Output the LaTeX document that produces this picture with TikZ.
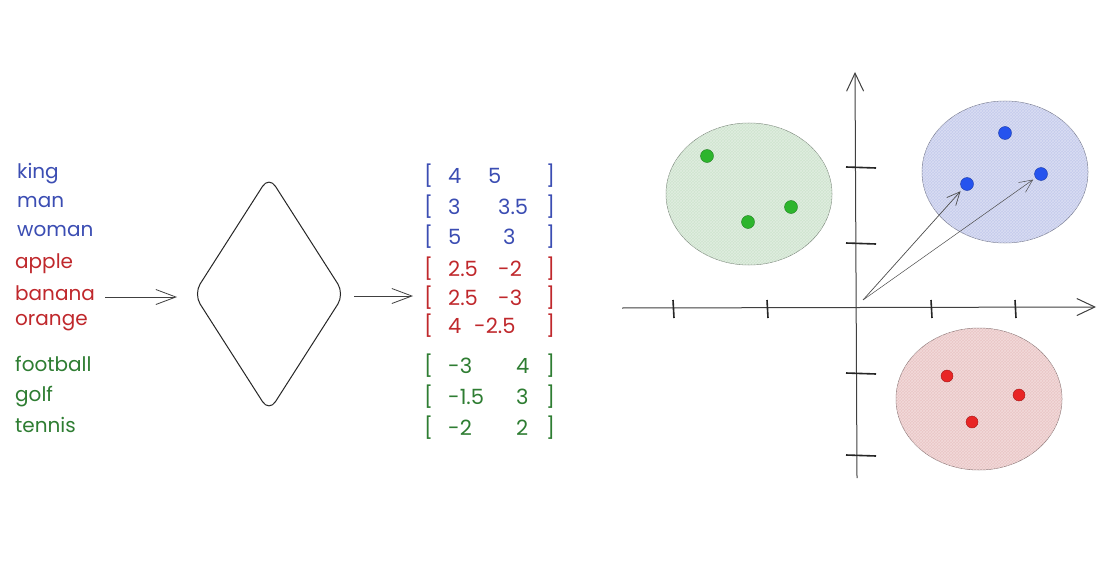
\documentclass[tikz,border=0pt]{standalone}
\usepackage{fontspec}
\setmainfont{Poppins}
\usetikzlibrary{shapes.geometric,arrows.meta,patterns}
\definecolor{wblue}{HTML}{3B4DB3}
\definecolor{wred}{HTML}{C0282C}
\definecolor{wgreen}{HTML}{2E7D32}
\definecolor{gfill}{HTML}{CFE4CF}
\definecolor{bfill}{HTML}{C5CBEC}
\definecolor{rfill}{HTML}{EAC6C6}
\definecolor{gdot}{HTML}{2DB52D}
\definecolor{bdot}{HTML}{2553EE}
\definecolor{rdot}{HTML}{E82525}
\begin{document}
\begin{tikzpicture}[x=1pt,y=-1pt,
  word/.style={anchor=west,inner sep=0pt,font=\fontsize{20}{22}\selectfont},
  num/.style={anchor=west,inner sep=0pt,font=\fontsize{21}{22}\selectfont},
  bigarrow/.style={-{Straight Barb[length=20pt,width=15pt]},line width=0.8pt,black!75},
  axis/.style={-{Straight Barb[length=18pt,width=17pt]},line width=1pt,black!75},
  vecarrow/.style={-{Straight Barb[length=13pt,width=12pt]},line width=0.7pt,black!70},
  tick/.style={line width=1.6pt,black!85},
  dot/.style={circle,inner sep=0pt,minimum size=13pt,draw=#1!70!black,fill=#1,line width=0.4pt},
  cluster/.style={draw=#1!60!black,line width=0.5pt}]
\useasboundingbox (0,0) rectangle (1097,567);
\fill[white] (0,0) rectangle (1097,567);

% words
\node[word,text=wblue] (king) at (17,174) {king};
\node[word,text=wblue] (man) at (17,202) {man};
\node[word,text=wblue] (woman) at (17,231) {woman};
\node[word,text=wred] (apple) at (15,264) {apple};
\node[word,text=wred] (banana) at (15,293) {banana};
\node[word,text=wred] (orange) at (15,323) {orange};
\node[word,text=wgreen] (football) at (15,364) {football};
\node[word,text=wgreen] (golf) at (15,397) {golf};
\node[word,text=wgreen] (tennis) at (15,425) {tennis};

% model
\node[draw,diamond,minimum width=151pt,minimum height=236pt,inner sep=0pt,
  rounded corners=12pt,line width=1pt,black!85] (model) at (269,294) {};

% vectors
\foreach \y/\a/\xa/\b/\xb/\c/\i in {
  176/4/448/5/488/wblue/1,
  207/3/448/3.5/498/wblue/2,
  237/5/448/3/503/wblue/3,
  269/2.5/448/-2/498/wred/4,
  298/2.5/448/-3/498/wred/5,
  326/4/448/-2.5/474/wred/6,
  366/-3/448/4/516/wgreen/7,
  397/-1.5/448/3/516/wgreen/8,
  428/-2/448/2/516/wgreen/9}{
  \node[num,text=\c] (lb\i) at (424,\y) {[};
  \node[num,text=\c] (a\i) at (\xa,\y) {\a};
  \node[num,text=\c] (b\i) at (\xb,\y) {\b};
  \node[num,text=\c] (rb\i) at (546,\y) {]};
}

\coordinate (s1) at ([xshift=10pt,yshift=-4pt]banana.east);
\coordinate (e1) at (177,297);
\draw[bigarrow] (s1) -- (e1);
\coordinate (s2) at (354,296);
\coordinate (e2) at (413,296);
\draw[bigarrow] (s2) -- (e2);

% clusters
\filldraw[cluster=gfill,fill=gfill] (749,194) ellipse [x radius=83, y radius=71];
\fill[pattern=crosshatch,pattern color=white!60!gfill,opacity=0.6] (749,194) ellipse [x radius=83, y radius=71];
\filldraw[cluster=bfill,fill=bfill] (1005,172) ellipse [x radius=83, y radius=71];
\fill[pattern=crosshatch,pattern color=white!60!bfill,opacity=0.6] (1005,172) ellipse [x radius=83, y radius=71];
\filldraw[cluster=rfill,fill=rfill] (979,399) ellipse [x radius=83, y radius=71];
\fill[pattern=crosshatch,pattern color=white!60!rfill,opacity=0.6] (979,399) ellipse [x radius=83, y radius=71];

% axes
\coordinate (xl) at (622,308);
\coordinate (xr) at (1096,307);
\coordinate (yb) at (857,478);
\coordinate (yt) at (855,72);
\draw[axis] (xl) -- (xr);
\draw[axis] (yb) -- (yt);
\foreach \x in {673,767,931,1015} \draw[tick] (\x,300) -- (\x+1,318);
\foreach \y in {167,243,373,455} \draw[tick] (846,\y) -- (876,\y+1);

% dots
\node[dot=gdot] (g1) at (707,156) {};
\node[dot=gdot] (g2) at (748,222) {};
\node[dot=gdot] (g3) at (791,207) {};
\node[dot=bdot] (bl1) at (1005,133) {};
\node[dot=bdot] (bl2) at (967,184) {};
\node[dot=bdot] (bl3) at (1041,174) {};
\node[dot=rdot,minimum size=12pt] (r1) at (947,376) {};
\node[dot=rdot,minimum size=12pt] (r2) at (1019,395) {};
\node[dot=rdot,minimum size=12pt] (r3) at (972,422) {};

% vectors from origin
\coordinate (o) at (863,300);
\draw[vecarrow,shorten >=3pt] (o) -- (bl2);
\draw[vecarrow,shorten >=3pt,line width=0.5pt] (o) -- (bl3);
\end{tikzpicture}
\end{document}
